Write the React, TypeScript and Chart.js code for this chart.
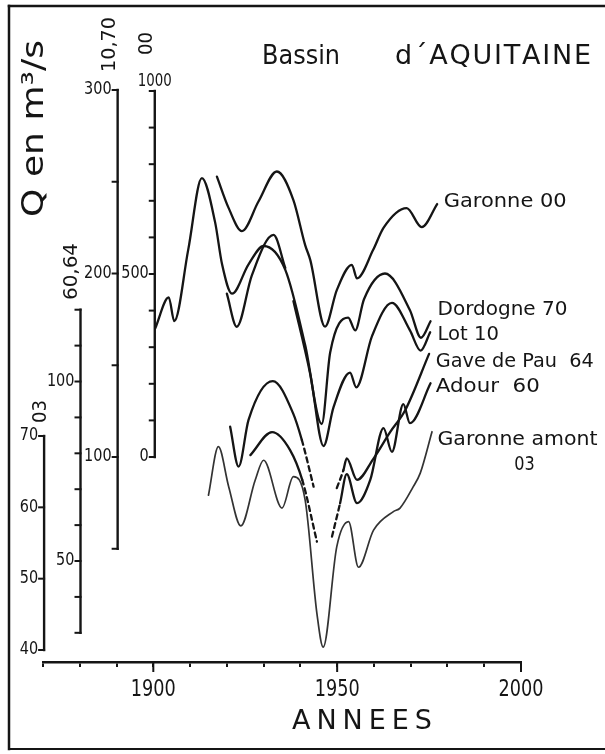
import React, { useEffect, useRef } from 'react';
import { Chart, registerables } from 'chart.js';

Chart.register(...registerables);

// ---- Data (years, discharge Q in m3/s) ----
const garonne00Years = [1917.3, 1920.5, 1924.1, 1928.6, 1933.6, 1938.1, 1941.3, 1942.7, 1946.7, 1949.9, 1954.0, 1955.4, 1959.8, 1962.6, 1968.9, 1973.0, 1977.2];
const garonne00Q = [766, 680, 617, 698, 780, 702, 579, 538, 356, 456, 525, 488, 566, 626, 680, 628, 691];

const dordogne70Years = [1900.5, 1904.2, 1905.7, 1909.5, 1913.2, 1916.8, 1918.7, 1921.4, 1925.9, 1930.0, 1935.9, 1941.3, 1945.8, 1948.1, 1953.0, 1954.9, 1957.3, 1963.0, 1969.8, 1972.8, 1975.4];
const dordogne70Q = [170, 187, 174, 213, 252, 228, 205, 189, 205, 215, 202, 161, 118, 157, 176, 169, 186, 200, 180, 165, 174];

const lot10Years = [1920.0, 1922.7, 1926.8, 1932.7, 1935.9, 1936.8, 1938.1, 1942.7, 1946.3, 1949.0, 1953.5, 1955.2, 1959.5, 1964.9, 1969.8, 1972.7, 1975.3];
const lot10Q = [189, 171, 199, 221, 203, null, 185, 145, 106, 127, 146, 138, 166, 184, 169, 158, 168];

const gaveDePau64Years = [1920.9, 1923.2, 1925.9, 1932.5, 1938.0, 1940.4, 1943.6, 1946.5, 1949.9, 1951.7, 1952.6, 1955.4, 1959.8, 1964.4, 1968.5, 1975.0];
const gaveDePau64Q = [87.4, 76.3, 89.3, 100.1, 91.2, 83.7, 70.7, null, 70.3, 75.3, 78.6, 72.6, 78.4, 85.9, 92.0, 107.7];

const adour60Years = [1926.4, 1932.3, 1937.2, 1940.5, 1944.5, 1946.5, 1948.6, 1950.8, 1952.6, 1955.4, 1959.0, 1962.6, 1964.9, 1968.0, 1969.8, 1975.4];
const adour60Q = [79.5, 85.9, 80.9, 72.6, 55.4, null, 56.8, 66.1, 74.2, 66.1, 72.6, 87.0, 80.4, 93.7, 88.4, 99.5];

const garonneAmont03Years = [1915.0, 1917.7, 1920.5, 1923.8, 1927.7, 1930.0, 1935.0, 1938.1, 1941.3, 1944.5, 1946.2, 1949.9, 1953.1, 1955.8, 1959.9, 1965.3, 1967.1, 1970.7, 1972.6, 1975.8];
const garonneAmont03Q = [61.7, 68.5, 62.9, 57.4, 63.8, 66.6, 59.9, 64.3, 61.0, 45.1, 40.4, 54.5, 58.0, 51.6, 56.8, 59.4, 59.9, 62.9, 64.8, 70.6];

// ---- Tick labels ----
const xTickValues = [1870, 1880, 1890, 1900, 1910, 1920, 1930, 1940, 1950, 1960, 1970, 1980, 1990, 2000];
const xTickLabels = [1900, 1950, 2000];
const ticks03 = [40, 50, 60, 70];
const labels03 = [40, 50, 60, 70];
const ticks6064 = [30, 40, 50, 60, 70, 80, 90, 100, 110, 120];
const labels6064 = [50, 100];
const ticks1070 = [50, 100, 150, 200, 250, 300];
const labels1070 = [100, 200, 300];
const ticks00 = [0, 100, 200, 300, 400, 500, 600, 700, 800, 900, 1000];
const labels00 = [0, 500];

const seriesNames = ['Garonne 00', 'Dordogne 70', 'Lot 10', 'Gave de Pau  64', 'Adour  60', 'Garonne amont'];

// ---- Styles ----
const INK = '#151515';
const FONT = '"DejaVu Sans", "Liberation Sans", sans-serif';

type TextOpts = { size: number; width?: number; sx?: number; align?: CanvasTextAlign; rotate?: number; weight?: string; color?: string };

function drawText(ctx: CanvasRenderingContext2D, text: string, x: number, y: number, o: TextOpts) {
  ctx.save();
  ctx.font = `${o.weight || 'normal'} ${o.size}px ${FONT}`;
  const natural = ctx.measureText(text).width;
  const sx = o.width ? o.width / natural : o.sx ?? 1;
  ctx.translate(x, y);
  if (o.rotate) ctx.rotate(o.rotate);
  ctx.scale(sx, 1);
  ctx.textAlign = o.align || 'left';
  ctx.textBaseline = 'middle';
  ctx.fillStyle = o.color || INK;
  ctx.fillText(text, 0, 0);
  ctx.restore();
}

function drawSpaced(ctx: CanvasRenderingContext2D, text: string, left: number, width: number, y: number, size: number) {
  ctx.save();
  ctx.font = `normal ${size}px ${FONT}`;
  ctx.textAlign = 'left';
  ctx.textBaseline = 'middle';
  ctx.fillStyle = INK;
  const chars = Array.from(text);
  const ws = chars.map((c) => ctx.measureText(c).width);
  const total = ws.reduce((a, b) => a + b, 0);
  const gap = chars.length > 1 ? (width - total) / (chars.length - 1) : 0;
  let x = left;
  chars.forEach((c, i) => {
    ctx.fillText(c, x, y);
    x += ws[i] + gap;
  });
  ctx.restore();
}

function line(ctx: CanvasRenderingContext2D, x1: number, y1: number, x2: number, y2: number, w: number) {
  ctx.beginPath();
  ctx.moveTo(x1, y1);
  ctx.lineTo(x2, y2);
  ctx.lineWidth = w;
  ctx.strokeStyle = INK;
  ctx.lineCap = 'square';
  ctx.stroke();
}

const figurePlugin = {
  id: 'aquitaineFigure',
  afterDraw(chart: any) {
    const ctx: CanvasRenderingContext2D = chart.ctx;
    const xs = chart.scales.x;
    const bottom = chart.chartArea.bottom;

    // frame
    line(ctx, 9, 6, 605, 6, 2.5);
    line(ctx, 9, 6, 9, 749, 2.5);
    line(ctx, 9, 749, 605, 749, 2);

    // longer x ticks at labelled years + labels
    xTickLabels.forEach((v) => {
      const px = xs.getPixelForValue(v);
      line(ctx, px, bottom, px, bottom + 9, 2);
      drawText(ctx, String(v), px, 690, { size: 23, width: 45, align: 'center' });
    });
    drawSpaced(ctx, 'ANNEES', 292, 140, 722, 27);

    // stacked y axes
    const axes = [
      { id: 'y03', year: 1870.3, ticks: ticks03, labels: labels03 },
      { id: 'y6064', year: 1880.2, ticks: ticks6064, labels: labels6064 },
      { id: 'y1070', year: 1890.3, ticks: ticks1070, labels: labels1070 },
      { id: 'y00', year: 1900.4, ticks: ticks00, labels: labels00 },
    ];
    axes.forEach((a) => {
      const ys = chart.scales[a.id];
      const ax = xs.getPixelForValue(a.year);
      const yTop = ys.getPixelForValue(a.ticks[a.ticks.length - 1]);
      const yBot = ys.getPixelForValue(a.ticks[0]);
      line(ctx, ax, yTop, ax, yBot, 2.4);
      a.ticks.forEach((t) => {
        const py = ys.getPixelForValue(t);
        line(ctx, ax - 5, py, ax, py, 2);
      });
      a.labels.forEach((t) => {
        const py = ys.getPixelForValue(t);
        drawText(ctx, String(t), ax - 6, py, { size: 17, sx: 0.85, align: 'right' });
      });
    });
    // 1000 written above the Garonne 00 axis
    {
      const ys = chart.scales.y00;
      const ax = xs.getPixelForValue(1900.4);
      drawText(ctx, '1000', ax, ys.getPixelForValue(1000) - 9, { size: 17, width: 34, align: 'center' });
    }

    // rotated axis captions
    const up = -Math.PI / 2;
    drawText(ctx, 'Q en m³/s', 35, 128.5, { size: 30, width: 177, align: 'center', rotate: up });
    drawText(ctx, '10,70', 110, 44.5, { size: 19, width: 55, align: 'center', rotate: up });
    drawText(ctx, '00', 147.5, 43.5, { size: 19, width: 23, align: 'center', rotate: up });
    drawText(ctx, '60,64', 72, 271.5, { size: 19, width: 57, align: 'center', rotate: up });
    drawText(ctx, '03', 41.5, 411.5, { size: 19, width: 23, align: 'center', rotate: up });

    // title
    drawText(ctx, 'Bassin', 262, 57, { size: 27, width: 78 });
    drawSpaced(ctx, 'd´AQUITAINE', 395, 196, 57, 27);

    // series labels
    drawText(ctx, seriesNames[0], 443.7, 202, { size: 20, width: 123 });
    drawText(ctx, seriesNames[1], 437.5, 310, { size: 20, width: 130 });
    drawText(ctx, seriesNames[2], 437.5, 335, { size: 20, width: 61.5 });
    drawText(ctx, seriesNames[3], 435.8, 361.7, { size: 20, width: 158 });
    drawText(ctx, seriesNames[4], 435.8, 386.7, { size: 20, width: 104 });
    drawText(ctx, seriesNames[5], 437.5, 440, { size: 20, width: 160 });
    drawText(ctx, '03', 524.5, 465, { size: 20, width: 20.5, align: 'center' });
  },
};

function series(label: string, years: number[], q: (number | null)[], yAxisID: string, extra: any = {}) {
  return {
    label,
    yAxisID,
    data: years.map((x, i) => ({ x, y: q[i] })),
    borderColor: INK,
    borderWidth: 2.3,
    pointRadius: 0,
    fill: false,
    spanGaps: false,
    cubicInterpolationMode: 'monotone',
    borderCapStyle: 'round',
    borderJoinStyle: 'round',
    ...extra,
  };
}

const uncertain = {
  borderDash: (c: any) => (c.p0.parsed.x >= 1940.3 && c.p1.parsed.x <= 1952 ? [5, 4] : undefined),
};

export default function App() {
  const ref = useRef<HTMLCanvasElement>(null);
  useEffect(() => {
    if (!ref.current) return;
    const chart = new Chart(ref.current, {
      type: 'line',
      data: {
        datasets: [
          series('Garonne 00', garonne00Years, garonne00Q, 'y00'),
          series('Dordogne 70', dordogne70Years, dordogne70Q, 'y1070'),
          series('Lot 10', lot10Years, lot10Q, 'y1070'),
          series('Gave de Pau 64', gaveDePau64Years, gaveDePau64Q, 'y6064', { segment: uncertain }),
          series('Adour 60', adour60Years, adour60Q, 'y6064', { segment: uncertain }),
          series('Garonne amont 03', garonneAmont03Years, garonneAmont03Q, 'y03', { borderWidth: 1.7, borderColor: '#333' }),
        ] as any,
      },
      options: {
        animation: false,
        responsive: false,
        devicePixelRatio: 1,
        events: [],
        layout: { padding: { left: 43, right: 84, top: 90, bottom: 12 } },
        plugins: { legend: { display: false }, tooltip: { enabled: false }, title: { display: false } },
        scales: {
          x: {
            type: 'linear',
            position: 'bottom',
            min: 1870,
            max: 2000,
            afterFit: (s: any) => {
              s.height = 80;
            },
            afterBuildTicks: (s: any) => {
              s.ticks = xTickValues.map((v) => ({ value: v }));
            },
            border: { display: true, color: INK, width: 2.5 },
            grid: { display: true, drawOnChartArea: false, drawTicks: true, tickLength: 5, color: INK, lineWidth: 2 },
            ticks: { display: false, autoSkip: false, maxRotation: 0 },
          },
          y00: { type: 'linear', display: false, min: -560.1, max: 1002.7 },
          y1070: { type: 'linear', display: false, min: -11.7, max: 300 },
          y6064: { type: 'linear', display: false, min: 21.87, max: 181.2 },
          y03: { type: 'linear', display: false, min: 38.32, max: 118.5 },
        },
      } as any,
      plugins: [figurePlugin],
    });
    return () => chart.destroy();
  }, []);
  return (
    <div style={{ position: 'fixed', left: 0, top: 0, width: 605, height: 754, background: '#fff' }}>
      <canvas ref={ref} width={605} height={754} style={{ display: 'block', width: 605, height: 754 }} />
    </div>
  );
}
